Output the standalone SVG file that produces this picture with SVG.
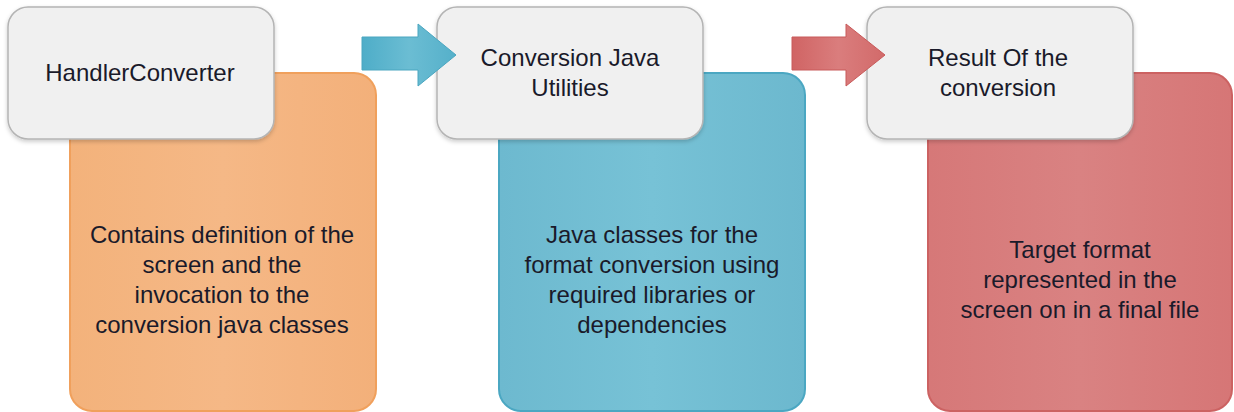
<svg xmlns="http://www.w3.org/2000/svg" width="1234" height="412" viewBox="0 0 1234 412">
  <style>
    .title { fill: #f0f0f0; stroke: #b4b4b4; stroke-width: 1.5; }
    .lbl { font-family: "Liberation Sans", Arial, sans-serif; font-size: 24px; fill: #1a1a2a; text-anchor: middle; }
    .orange { fill: url(#gOrange); stroke: #f0a05c; stroke-width: 2; }
    .blue { fill: url(#gBlue); stroke: #4ba7c2; stroke-width: 2; }
    .red { fill: url(#gRed); stroke: #cc6262; stroke-width: 2; }
  </style>
  <defs>
    <linearGradient id="gOrange" x1="0" x2="1" y1="0" y2="0">
      <stop offset="0" stop-color="#f3b27b"/>
      <stop offset="0.5" stop-color="#f5b886"/>
      <stop offset="1" stop-color="#f3b07a"/>
    </linearGradient>
    <linearGradient id="gBlue" x1="0" x2="1" y1="0" y2="0">
      <stop offset="0" stop-color="#6db9cf"/>
      <stop offset="0.5" stop-color="#77c2d6"/>
      <stop offset="1" stop-color="#6cb8ce"/>
    </linearGradient>
    <linearGradient id="gRed" x1="0" x2="1" y1="0" y2="0">
      <stop offset="0" stop-color="#d67878"/>
      <stop offset="0.5" stop-color="#d98282"/>
      <stop offset="1" stop-color="#d67676"/>
    </linearGradient>
    <linearGradient id="gArrowBlue" x1="0" x2="1" y1="0" y2="0">
      <stop offset="0" stop-color="#4eadc8"/>
      <stop offset="0.5" stop-color="#6bbdd3"/>
      <stop offset="1" stop-color="#55b0ca"/>
    </linearGradient>
    <linearGradient id="gArrowRed" x1="0" x2="1" y1="0" y2="0">
      <stop offset="0" stop-color="#d06464"/>
      <stop offset="0.5" stop-color="#da7d7d"/>
      <stop offset="1" stop-color="#d26a6a"/>
    </linearGradient>
    <filter id="shadow" x="-10%" y="-10%" width="120%" height="130%">
      <feDropShadow dx="0" dy="2" stdDeviation="2" flood-color="#000" flood-opacity="0.2"/>
    </filter>
  </defs>

  <!-- coloured description panels -->
  <g id="desc-handler">
    <rect class="orange" x="70" y="73" width="306" height="338" rx="22"/>
    <text class="lbl" x="222" y="243">Contains definition of the</text>
    <text class="lbl" x="222" y="273">screen and the</text>
    <text class="lbl" x="222" y="303">invocation to the</text>
    <text class="lbl" x="222" y="333">conversion java classes</text>
  </g>
  <g id="desc-utilities">
    <rect class="blue" x="499" y="73" width="306" height="338" rx="22"/>
    <text class="lbl" x="652" y="243">Java classes for the</text>
    <text class="lbl" x="652" y="273">format conversion using</text>
    <text class="lbl" x="652" y="303">required libraries or</text>
    <text class="lbl" x="652" y="333">dependencies</text>
  </g>
  <g id="desc-result">
    <rect class="red" x="928" y="73" width="304" height="338" rx="22"/>
    <text class="lbl" x="1080" y="258">Target format</text>
    <text class="lbl" x="1080" y="288">represented in the</text>
    <text class="lbl" x="1080" y="318">screen on in a final file</text>
  </g>

  <!-- title cards -->
  <g id="node-handler">
    <rect class="title" x="8" y="7" width="266" height="132" rx="20" filter="url(#shadow)"/>
    <text class="lbl" x="140" y="81">HandlerConverter</text>
  </g>
  <g id="node-utilities">
    <rect class="title" x="437" y="7" width="266" height="132" rx="20" filter="url(#shadow)"/>
    <text class="lbl" x="570" y="66">Conversion Java</text>
    <text class="lbl" x="570" y="96">Utilities</text>
  </g>
  <g id="node-result">
    <rect class="title" x="867" y="7" width="266" height="132" rx="20" filter="url(#shadow)"/>
    <text class="lbl" x="998" y="66">Result Of the</text>
    <text class="lbl" x="998" y="96">conversion</text>
  </g>

  <!-- block arrows between stages -->
  <g id="connectors">
    <path d="M362,37 H418 V24 L456,55 L418,86 V70 H362 Z" fill="url(#gArrowBlue)" stroke="#4aa6c0" stroke-width="1"/>
    <path d="M792,37 H846 V24 L885,55 L846,86 V70 H792 Z" fill="url(#gArrowRed)" stroke="#c85a5a" stroke-width="1"/>
  </g>
</svg>
